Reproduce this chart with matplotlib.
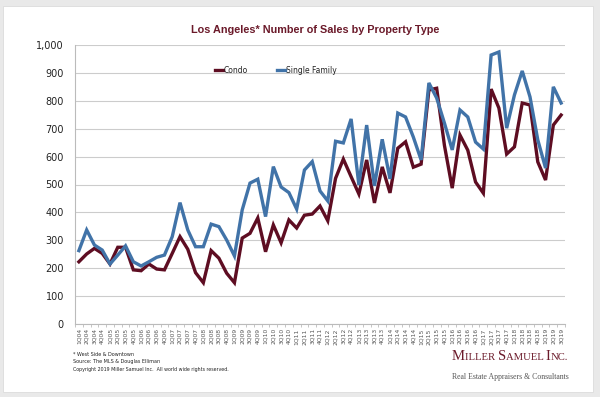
import matplotlib.pyplot as plt
import numpy as np
from matplotlib.patches import Rectangle
from matplotlib.offsetbox import TextArea, HPacker, AnchoredOffsetbox
from matplotlib.ticker import FuncFormatter, MultipleLocator

# quarters 1Q04 .. 3Q19
quarters = [f"{q}Q{y:02d}" for y in range(4, 20) for q in range(1, 5)][:63]

condo = [223, 251, 271, 253, 215, 275, 275, 194,
         191, 215, 197, 194, 253, 313, 268, 184,
         148, 263, 236, 182, 148, 308, 325, 380,
         259, 355, 291, 373, 344, 390, 394, 423,
         370, 522, 591, 528, 466, 588, 434, 563,
         470, 630, 653, 562, 573, 839, 845, 640,
         487, 677, 623, 509, 469, 842, 774, 609,
         635, 792, 785, 581, 516, 713, 749]

single_family = [263, 337, 283, 265, 215, 247, 280, 223,
                 208, 223, 239, 247, 313, 435, 337, 277,
                 277, 358, 349, 301, 244, 409, 505, 519,
                 385, 564, 491, 471, 412, 552, 582, 477,
                 441, 655, 649, 735, 498, 713, 495, 662,
                 520, 756, 742, 670, 588, 864, 810, 720,
                 624, 767, 742, 652, 627, 964, 975, 702,
                 821, 907, 814, 660, 559, 850, 792]

condo_color = '#5e0d22'
sf_color = '#4173a8'
maroon = '#6b1a2a'

fig = plt.figure(figsize=(6, 3.97), dpi=100)
fig.patch.set_facecolor('#e9e9e9')
fig.patches.append(Rectangle((3/600, 5/397), 590/600, 386/397, transform=fig.transFigure,
                             facecolor='white', edgecolor='#dcdcdc', lw=0.6, zorder=-5))

ax = fig.add_axes([75/600, 73/397, 490/600, 279/397])
ax.set_facecolor('none')
x = np.arange(len(quarters))
ax.plot(x, condo, color=condo_color, lw=2.4, label='Condo', solid_joinstyle='miter')
ax.plot(x, single_family, color=sf_color, lw=2.4, label='Single Family', solid_joinstyle='miter')

ax.set_xlim(-0.5, len(quarters) - 0.5)
ax.set_ylim(0, 1000)
ax.yaxis.set_major_locator(MultipleLocator(100))
ax.yaxis.set_major_formatter(FuncFormatter(lambda v, p: f"{int(v):,}"))
ax.grid(axis='y', color='#cccccc', lw=0.8)
ax.set_axisbelow(True)

ax.set_xticks(x)
ax.set_xticklabels(quarters, rotation=90, fontsize=4.3, color='#555555')
ax.set_xticks(np.arange(-0.5, len(quarters)), minor=True)
ax.tick_params(axis='x', which='major', length=0, pad=3)
ax.tick_params(axis='x', which='minor', length=2.5, color='#bbbbbb', width=0.6)
ax.tick_params(axis='y', length=0, labelsize=7, colors='#222222', pad=8)

for s in ['top', 'right']:
    ax.spines[s].set_visible(False)
ax.spines['left'].set_color('#bbbbbb')
ax.spines['bottom'].set_color('#bbbbbb')
ax.spines['left'].set_linewidth(0.8)
ax.spines['bottom'].set_linewidth(0.8)

leg = ax.legend(loc='upper center', bbox_to_anchor=(0.41, 0.95), ncol=2, frameon=False,
                fontsize=5.5, handlelength=1.0, handletextpad=0.1, columnspacing=3.8)
for t in leg.get_texts():
    t.set_color('#222222')

fig.text(315/600, 1 - 30/397, 'Los Angeles* Number of Sales by Property Type',
         ha='center', va='center', fontsize=7.8, fontweight='bold', color=maroon,
         family='Liberation Sans')

foot = ['* West Side & Downtown', 'Source: The MLS & Douglas Elliman']
fig.text(73/600, 1 - 355/397, foot[0], fontsize=3.5, color='#222222', va='center')
fig.text(73/600, 1 - 361/397, foot[1], fontsize=3.5, color='#222222', va='center')
fig.text(73/600, 1 - 370/397, 'Copyright 2019 Miller Samuel Inc.  All world wide rights reserved.',
         fontsize=3.4, color='#222222', va='center')

# small caps logo
parts = [('M', 10.5), ('ILLER ', 7.7), ('S', 10.5), ('AMUEL ', 7.7), ('I', 10.5), ('NC.', 7.7)]
boxes = [TextArea(s, textprops=dict(fontsize=fs, color=maroon, family='Liberation Serif'))
         for s, fs in parts]
logo = HPacker(children=boxes, align='baseline', pad=0, sep=0)
fig.add_artist(AnchoredOffsetbox(loc='center', child=logo, frameon=False,
                                 bbox_to_anchor=(510/600, 1 - 356/397),
                                 bbox_transform=fig.transFigure, pad=0, borderpad=0))
fig.text(510/600, 1 - 377/397, 'Real Estate Appraisers & Consultants', ha='center', va='center',
         fontsize=5.6, color='#555555', family='Liberation Serif')

fig.savefig('out.png', dpi=100, facecolor=fig.get_facecolor())
